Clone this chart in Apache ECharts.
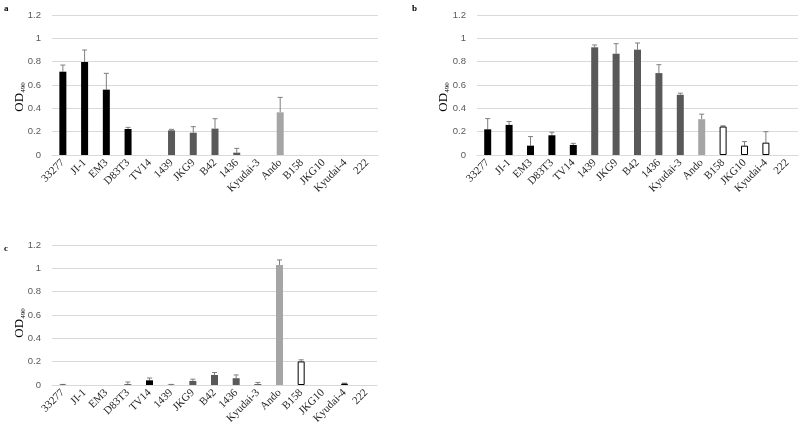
<!DOCTYPE html>
<html><head><meta charset="utf-8">
<script src="https://cdn.jsdelivr.net/npm/echarts@6/dist/echarts.min.js"></script>
<style>html,body{margin:0;padding:0;background:#fff}#c{width:800px;height:432px}</style>
</head><body><div id="c"></div>
<script>
const categories = ['33277','JI-1','EM3','D83T3','TV14','1439','JKG9','B42','1436','Kyudai-3','Ando','B158','JKG10','Kyudai-4','222'];
const groups = [0,0,0,0,0,1,1,1,1,1,2,3,3,3,3];
const yTicks = [0,0.2,0.4,0.6,0.8,1,1.2];
// panel a
const valsA = [0.714,0.797,0.56,0.223,0,0.211,0.191,0.226,0.02,0,0.366,0,0,0,0];
const errA  = [0.057,0.103,0.14,0.014,0,0.009,0.052,0.085,0.037,0,0.128,0,0,0,0];
// panel b
const valsB = [0.22,0.258,0.08,0.169,0.086,0.923,0.868,0.903,0.702,0.516,0.307,0.244,0.08,0.106,0];
const errB  = [0.092,0.029,0.078,0.026,0.014,0.02,0.086,0.057,0.072,0.014,0.043,0.006,0.035,0.094,0];
// panel c
const valsC = [0.002,0,0,0.005,0.04,0.003,0.035,0.086,0.058,0.008,1.029,0.202,0,0.012,0];
const errC  = [0.003,0,0,0.021,0.02,0.002,0.015,0.021,0.028,0.014,0.043,0.014,0,0.004,0];

const fills = ['#000000','#595959','#a5a5a5','#ffffff'];
const borders = ['#000000','#595959','#a5a5a5','#000000'];

const panels = [
  {label:'a', vals:valsA, err:errA, grid:{left:52, top:15, width:326, height:140}, lx:4, ly:4, nx:20, ny:97},
  {label:'b', vals:valsB, err:errB, grid:{left:477, top:15, width:321, height:140}, lx:412, ly:4, nx:444, ny:97},
  {label:'c', vals:valsC, err:errC, grid:{left:52, top:245, width:325, height:140}, lx:4, ly:244, nx:20, ny:323}
];

const grids=[], xAxes=[], yAxes=[], series=[], graphics=[];
panels.forEach((p,i)=>{
  grids.push(p.grid);
  xAxes.push({type:'category', gridIndex:i, data:categories,
    axisLine:{lineStyle:{color:'#d9d9d9', width:1}}, axisTick:{show:false},
    axisLabel:{rotate:45, interval:0, fontFamily:'Liberation Serif', fontSize:11, color:'#262626', margin:6}});
  yAxes.push({type:'value', gridIndex:i, min:yTicks[0], max:yTicks[yTicks.length-1], interval:0.2,
    axisLine:{show:false}, axisTick:{show:false},
    splitLine:{lineStyle:{color:'#d9d9d9', width:1}},
    axisLabel:{fontFamily:'Liberation Sans', fontSize:9.5, color:'#595959', margin:11}});
  series.push({type:'bar', xAxisIndex:i, yAxisIndex:i, barWidth:7,
    data:p.vals.map((v,k)=>v>0 ? ({value:v, itemStyle:{color:fills[groups[k]], borderColor:borders[groups[k]], borderWidth:groups[k]===3?1:0}}) : '-')});
  series.push({type:'custom', xAxisIndex:i, yAxisIndex:i, z:1,
    data:p.vals.map((v,k)=>[k, v, p.err[k]]),
    renderItem:function(params, api){
      const e = api.value(2);
      if(!(e>0)) return null;
      const a = api.coord([api.value(0), api.value(1)]);
      const b = api.coord([api.value(0), api.value(1)+e]);
      const st = {stroke:'#7f7f7f', lineWidth:1};
      return {type:'group', children:[
        {type:'line', shape:{x1:a[0], y1:a[1], x2:b[0], y2:b[1]}, style:st},
        {type:'line', shape:{x1:b[0]-2.5, y1:b[1], x2:b[0]+2.5, y2:b[1]}, style:st}
      ]};
    }});
  graphics.push({type:'text', left:p.lx, top:p.ly, style:{text:p.label, font:'bold 9px "Liberation Serif"', fill:'#000'}});
  graphics.push({type:'text', x:p.nx, y:p.ny, rotation:Math.PI/2,
    style:{text:'{m|OD}{s|490}', align:'center', verticalAlign:'middle',
      rich:{m:{fontFamily:'Liberation Serif', fontSize:13, fill:'#000'},
            s:{fontFamily:'Liberation Serif', fontSize:7, fill:'#000', verticalAlign:'bottom', padding:[5,0,0,0]}}}});
});

const chart = echarts.init(document.getElementById('c'));
chart.setOption({animation:false, grid:grids, xAxis:xAxes, yAxis:yAxes, series:series, graphic:graphics});
</script></body></html>
